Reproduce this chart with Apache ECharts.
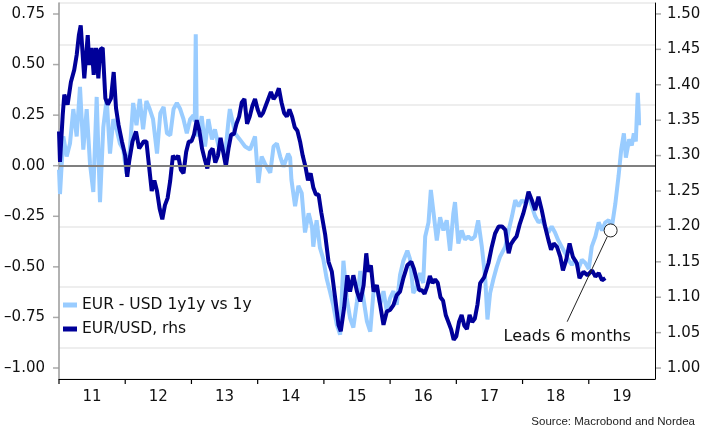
<!DOCTYPE html>
<html>
<head>
<meta charset="utf-8">
<script src="https://cdn.jsdelivr.net/npm/echarts@6/dist/echarts.min.js"></script>
<style>
html,body{margin:0;padding:0;background:#fff}
#chart{width:704px;height:437px}
</style>
</head>
<body>
<div id="chart"></div>
<script>
// tick labels
const leftTicks = [-1, -0.75, -0.5, -0.25, 0, 0.25, 0.5, 0.75];
const rightTicks = [1.00, 1.05, 1.10, 1.15, 1.20, 1.25, 1.30, 1.35, 1.40, 1.45, 1.50];
const yearTicks = [2011, 2012, 2013, 2014, 2015, 2016, 2017, 2018, 2019];
const yearLabels = [2011.5, 2012.5, 2013.5, 2014.5, 2015.5, 2016.5, 2017.5, 2018.5, 2019.5];

// EUR/USD, rhs (decimal years)
const fxDates = [
  2011.00,2011.015,2011.056,2011.08,2011.13,2011.18,2011.23,2011.267,2011.30,2011.328,2011.358,2011.382,2011.434,2011.458,2011.494,2011.524,2011.559,2011.594,2011.624,2011.66,2011.70,2011.736,2011.785,2011.826,2011.861,2011.90,2011.95,
  2012.00,2012.03,2012.06,2012.11,2012.163,2012.21,2012.24,2012.28,2012.32,2012.36,2012.40,2012.44,2012.48,2012.52,2012.56,2012.60,2012.64,2012.68,2012.72,2012.76,2012.80,2012.84,2012.88,2012.92,2012.96,
  2013.00,2013.04,2013.08,2013.12,2013.16,2013.20,2013.24,2013.28,2013.32,2013.36,2013.40,2013.44,2013.48,2013.52,2013.56,2013.60,2013.64,2013.68,2013.72,2013.76,2013.80,2013.84,2013.88,2013.92,2013.96,
  2014.00,2014.04,2014.08,2014.12,2014.16,2014.20,2014.24,2014.28,2014.32,2014.36,2014.40,2014.44,2014.48,2014.52,2014.56,2014.60,2014.64,2014.68,2014.72,2014.76,2014.80,2014.84,2014.88,2014.92,2014.96,
  2015.02,2015.07,2015.12,2015.17,2015.22,2015.255,2015.305,2015.355,2015.395,2015.445,2015.50,2015.55,2015.60,2015.64,2015.67,2015.71,2015.75,2015.80,2015.85,2015.90,2015.95,
  2016.00,2016.05,2016.10,2016.15,2016.20,2016.26,2016.32,2016.36,2016.40,2016.44,2016.48,2016.52,2016.56,2016.60,2016.64,2016.68,2016.72,2016.76,2016.80,2016.84,2016.88,2016.92,2016.96,
  2017.00,2017.04,2017.08,2017.12,2017.16,2017.20,2017.24,2017.28,2017.32,2017.36,2017.42,2017.485,2017.535,2017.585,2017.64,2017.69,2017.74,2017.79,2017.825,2017.86,2017.91,2017.96,
  2018.01,2018.05,2018.09,2018.14,2018.19,2018.24,2018.29,2018.34,2018.39,2018.43,2018.47,2018.52,2018.57,2018.61,2018.66,2018.71,2018.76,2018.82,2018.86,2018.92,2018.98,
  2019.05,2019.10,2019.15,2019.20,2019.25
];
const fxValues = [
  1.334,1.291,1.357,1.386,1.372,1.404,1.421,1.442,1.470,1.484,1.442,1.409,1.470,1.428,1.452,1.414,1.452,1.409,1.450,1.452,1.381,1.372,1.381,1.418,1.367,1.343,1.320,
  1.300,1.270,1.292,1.320,1.334,1.310,1.310,1.320,1.320,1.285,1.250,1.265,1.250,1.225,1.210,1.230,1.240,1.265,1.300,1.295,1.300,1.280,1.275,1.305,1.320,
  1.320,1.330,1.350,1.335,1.310,1.295,1.282,1.305,1.310,1.290,1.300,1.325,1.305,1.285,1.310,1.330,1.330,1.345,1.355,1.375,1.380,1.345,1.355,1.370,1.380,
  1.365,1.355,1.360,1.370,1.380,1.390,1.380,1.385,1.395,1.375,1.360,1.355,1.365,1.355,1.340,1.335,1.320,1.300,1.285,1.265,1.275,1.255,1.245,1.245,1.220,
  1.188,1.150,1.136,1.099,1.061,1.052,1.085,1.131,1.108,1.131,1.108,1.094,1.117,1.162,1.136,1.145,1.108,1.117,1.089,1.061,1.080,
  1.082,1.089,1.103,1.108,1.127,1.145,1.150,1.140,1.125,1.110,1.110,1.105,1.115,1.130,1.120,1.125,1.120,1.100,1.095,1.075,1.065,1.055,1.040,
  1.045,1.065,1.075,1.060,1.055,1.075,1.065,1.070,1.090,1.120,1.128,1.148,1.171,1.190,1.200,1.200,1.195,1.162,1.175,1.180,1.186,1.204,
  1.218,1.232,1.249,1.237,1.223,1.242,1.223,1.200,1.181,1.167,1.176,1.171,1.157,1.138,1.153,1.176,1.157,1.148,1.127,1.136,1.131,
  1.138,1.129,1.134,1.124,1.127
];

// EUR - USD 1y1y vs 1y, shifted 6 months ahead (decimal years)
const spreadDates = [
  2011.00,2011.015,2011.065,2011.116,2011.166,2011.216,2011.267,2011.317,2011.367,2011.418,2011.468,2011.518,2011.569,2011.619,2011.669,2011.72,2011.77,2011.82,2011.87,2011.92,2011.97,
  2012.02,2012.07,2012.12,2012.17,2012.22,2012.27,2012.32,2012.37,2012.42,2012.48,2012.53,2012.58,2012.63,2012.68,2012.73,2012.78,2012.83,2012.88,2012.93,2012.98,
  2013.03,2013.05,2013.065,2013.08,2013.10,2013.155,2013.205,2013.255,2013.31,2013.355,2013.41,2013.46,2013.51,2013.56,2013.58,2013.66,2013.73,2013.81,2013.885,2013.96,
  2014.01,2014.06,2014.11,2014.19,2014.24,2014.29,2014.34,2014.39,2014.46,2014.49,2014.51,2014.565,2014.615,2014.665,2014.715,2014.77,2014.82,2014.84,2014.89,2014.94,2014.99,
  2015.04,2015.09,2015.14,2015.195,2015.245,2015.295,2015.345,2015.395,2015.445,2015.50,2015.55,2015.58,2015.65,2015.70,2015.75,2015.80,2015.85,2015.90,2015.95,
  2016.00,2016.05,2016.10,2016.15,2016.20,2016.26,2016.30,2016.35,2016.40,2016.45,2016.50,2016.53,2016.58,2016.615,2016.655,2016.705,2016.755,2016.805,2016.855,2016.905,2016.955,2016.98,
  2017.03,2017.08,2017.13,2017.18,2017.23,2017.28,2017.33,2017.385,2017.435,2017.47,2017.51,2017.56,2017.61,2017.66,2017.74,2017.79,2017.84,2017.89,2017.94,2017.99,
  2018.04,2018.09,2018.14,2018.19,2018.24,2018.29,2018.34,2018.39,2018.44,2018.49,2018.54,2018.59,2018.64,2018.69,2018.745,2018.795,2018.845,2018.895,2018.945,
  2019.00,2019.045,2019.10,2019.15,2019.20,2019.25,2019.30,2019.35,2019.40,2019.45,2019.49,2019.53,2019.56,2019.61,2019.65,2019.68,2019.71,2019.74,2019.755,2019.76
];
const spreadValues = [
  -0.02,-0.14,0.145,0.046,0.11,0.28,0.145,0.39,0.08,0.28,0.01,-0.13,0.34,-0.18,0.19,0.33,0.06,0.23,0.18,0.11,0.08,
  -0.04,0.08,0.31,0.20,0.33,0.18,0.32,0.28,0.23,0.06,0.26,0.29,0.16,0.15,0.28,0.31,0.28,0.23,0.16,0.23,
  0.25,0.22,0.65,0.18,0.145,0.245,0.095,0.23,0.13,0.18,0.095,0.08,0.06,0.225,0.28,0.16,0.13,0.095,0.08,0.145,
  -0.085,0.045,0.01,-0.035,0.095,0.11,0.045,-0.005,0.06,0.04,-0.07,-0.20,-0.10,-0.135,-0.33,-0.235,-0.30,-0.40,-0.27,-0.405,-0.46,
  -0.555,-0.62,-0.687,-0.786,-0.835,-0.47,-0.654,-0.753,-0.80,-0.67,-0.52,-0.62,-0.77,-0.82,-0.62,-0.60,-0.687,-0.62,-0.72,
  -0.654,-0.62,-0.687,-0.54,-0.47,-0.42,-0.46,-0.63,-0.60,-0.53,-0.58,-0.35,-0.28,-0.12,-0.23,-0.37,-0.255,-0.32,-0.27,-0.42,-0.235,-0.18,
  -0.385,-0.32,-0.365,-0.35,-0.365,-0.35,-0.27,-0.40,-0.55,-0.76,-0.63,-0.56,-0.50,-0.45,-0.40,-0.32,-0.25,-0.17,-0.20,-0.17,
  -0.185,-0.15,-0.20,-0.25,-0.28,-0.27,-0.30,-0.33,-0.30,-0.33,-0.37,-0.40,-0.43,-0.465,-0.49,-0.465,-0.51,-0.465,-0.48,
  -0.51,-0.40,-0.35,-0.28,-0.32,-0.28,-0.27,-0.30,-0.19,-0.05,0.08,0.16,0.04,0.13,0.10,0.16,0.12,0.36,0.26,0.20
];

const FONT = 'DejaVu Sans';
const fmt = v => v.toFixed(2).replace('-', '\u2013');
const LEFT_MIN = -1.0544, LEFT_MAX = 0.8044;
const RIGHT_MIN = 0.98455, RIGHT_MAX = 1.51545;

const chart = echarts.init(document.getElementById('chart'));
chart.setOption({
  animation: false,
  backgroundColor: '#fff',
  grid: {left: 59, right: 49, top: 3, bottom: 58, containLabel: false, outerBoundsMode: 'none'},
  legend: {
    left: 58, top: 292, orient: 'vertical', itemWidth: 14, itemHeight: 5, itemGap: 8,
    icon: 'rect', selectedMode: false,
    textStyle: {fontFamily: FONT, fontSize: 15.5, color: '#111'},
    data: ['EUR - USD 1y1y vs 1y', 'EUR/USD, rhs']
  },
  xAxis: {
    type: 'value', min: 2011, max: 2020, interval: 1,
    axisLine: {show: true, onZero: false, lineStyle: {color: '#000', width: 1}},
    axisTick: {show: false},
    axisLabel: {customValues: yearLabels, formatter: v => String(Math.floor(v) % 100),
      fontFamily: FONT, fontSize: 15, color: '#111', margin: 11},
    splitLine: {show: false}
  },
  yAxis: [
    {
      type: 'value', position: 'left', min: LEFT_MIN, max: LEFT_MAX,
      axisLine: {show: true, onZero: false, lineStyle: {color: '#999', width: 1.5}},
      axisTick: {show: false},
      axisLabel: {customValues: leftTicks, formatter: fmt, fontFamily: FONT, fontSize: 15, color: '#111', margin: 14},
      splitLine: {show: true, lineStyle: {color: '#e8e8e8', width: 1.5}}
    },
    {
      type: 'value', position: 'right', min: RIGHT_MIN, max: RIGHT_MAX,
      axisLine: {show: true, onZero: false, lineStyle: {color: '#000', width: 1}},
      axisTick: {show: false},
      axisLabel: {customValues: rightTicks, formatter: fmt, fontFamily: FONT, fontSize: 15, color: '#111', margin: 12},
      splitLine: {show: false}
    }
  ],
  series: [
    {
      name: 'zero', type: 'line', data: [], z: 1, yAxisIndex: 0,
      markLine: {
        silent: true, symbol: ['none', 'none'], label: {show: false},
        lineStyle: {color: '#7f7f7f', width: 2, type: 'solid'},
        data: [{yAxis: 0}]
      }
    },
    {
      name: 'EUR - USD 1y1y vs 1y', type: 'line', yAxisIndex: 0, z: 3,
      data: spreadDates.map((d, i) => [d, spreadValues[i]]),
      symbol: 'none', color: '#99ccff',
      lineStyle: {color: '#99ccff', width: 4},
      markLine: {
        silent: true, symbol: ['none', 'none'], label: {show: false},
        lineStyle: {color: '#222', width: 1, type: 'solid'},
        data: [[{coord: [2019.28, -0.35]}, {coord: [2018.674, -0.771]}]]
      },
      markPoint: {
        silent: true,
        data: [
          {coord: [2019.33, -0.32], symbol: 'circle', symbolSize: 13,
            itemStyle: {color: '#fff', borderColor: '#222', borderWidth: 1}, label: {show: false}},
          {coord: [2018.674, -0.845], symbol: 'rect', symbolSize: [1, 1],
            itemStyle: {color: 'rgba(0,0,0,0)'},
            label: {show: true, position: 'inside', formatter: 'Leads 6 months',
              fontFamily: FONT, fontSize: 16, color: '#111'}}
        ]
      }
    },
    {
      name: 'EUR/USD, rhs', type: 'line', yAxisIndex: 1, z: 4,
      data: fxDates.map((d, i) => [d, fxValues[i]]),
      symbol: 'none', color: '#000099',
      lineStyle: {color: '#000099', width: 4}
    }
  ]
});

// axis ticks, placed through the chart's own scales
const px = (v) => chart.convertToPixel({xAxisIndex: 0}, v);
const pyL = (v) => chart.convertToPixel({yAxisIndex: 0}, v);
const pyR = (v) => chart.convertToPixel({yAxisIndex: 1}, v);
const xBottom = pyL(LEFT_MIN), xLeft = px(2011), xRight = px(2020);
const ticks = [];
yearTicks.forEach(y => ticks.push({type: 'line', silent: true,
  shape: {x1: px(y), y1: xBottom, x2: px(y), y2: xBottom + 5}, style: {stroke: '#000', lineWidth: 1.2}}));
leftTicks.forEach(v => ticks.push({type: 'line', silent: true,
  shape: {x1: xLeft - 6, y1: pyL(v), x2: xLeft, y2: pyL(v)}, style: {stroke: '#aaa', lineWidth: 1.5}}));
rightTicks.forEach(v => ticks.push({type: 'line', silent: true,
  shape: {x1: xRight, y1: pyR(v), x2: xRight + 6, y2: pyR(v)}, style: {stroke: '#aaa', lineWidth: 1.5}}));
ticks.push({type: 'text', right: 9, top: 416, silent: true,
  style: {text: 'Source: Macrobond and Nordea', font: '11.5px "Liberation Sans"', fill: '#222'}});
chart.setOption({graphic: ticks});
</script>
</body>
</html>
